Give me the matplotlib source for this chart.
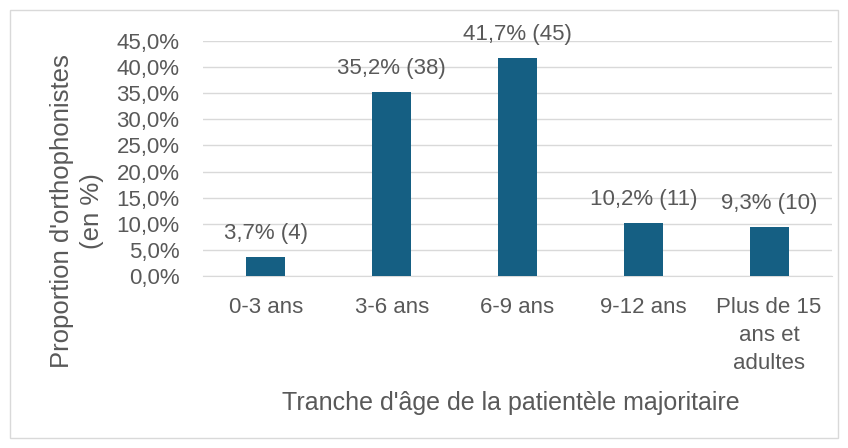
import matplotlib.pyplot as plt
from matplotlib.patches import Rectangle
from matplotlib.ticker import FuncFormatter, MultipleLocator

categories = ['0-3 ans', '3-6 ans', '6-9 ans', '9-12 ans', 'Plus de 15\nans et\nadultes']
pourcentages = [3.7, 35.2, 41.7, 10.2, 9.3]
effectifs = [4, 38, 45, 11, 10]

BAR_COLOR = '#155F83'
TEXT_COLOR = '#595959'
GRID_COLOR = '#D9D9D9'

plt.rcParams['font.family'] = ['Liberation Sans', 'DejaVu Sans']

W, H = 848, 448
fig = plt.figure(figsize=(W / 100, H / 100), dpi=100)
ax = fig.add_axes([203 / W, 1 - 276 / H, 629 / W, 235 / H])

x = range(len(categories))
ax.bar(x, pourcentages, width=0.31, color=BAR_COLOR, zorder=3)

# étiquettes de données : "x,x% (n)"
for xi, p, n in zip(x, pourcentages, effectifs):
    ax.annotate(f"{p:.1f}".replace('.', ',') + f"% ({n})", (xi, p),
                xytext=(0, 13), textcoords='offset points',
                ha='center', va='baseline', fontsize=16, color=TEXT_COLOR)

ax.set_xlim(-0.5, len(categories) - 0.5)
ax.set_ylim(0, 45)
ax.yaxis.set_major_locator(MultipleLocator(5))
ax.yaxis.set_major_formatter(FuncFormatter(lambda v, _: f"{v:.1f}".replace('.', ',') + '%'))
ax.grid(axis='y', color=GRID_COLOR, linewidth=1, zorder=0)
for s in ['top', 'right', 'left']:
    ax.spines[s].set_visible(False)
ax.spines['bottom'].set_color(GRID_COLOR)
ax.tick_params(axis='both', length=0, labelsize=16, colors=TEXT_COLOR)
ax.tick_params(axis='x', pad=15)
ax.tick_params(axis='y', pad=17)
ax.set_xticks(list(x))
ax.set_xticklabels(categories, linespacing=1.45)

fig.text(511 / W, 1 - 403 / H, "Tranche d'âge de la patientèle majoritaire",
         ha='center', va='center', fontsize=18, color=TEXT_COLOR)
fig.text(77 / W, 1 - 211 / H, "Proportion d'orthophonistes\n(en %)",
         ha='center', va='center', rotation=90, fontsize=18.5,
         color=TEXT_COLOR, linespacing=1.3)

fig.patches.append(Rectangle((10 / W, 10 / H), 828 / W, 428 / H,
                             transform=fig.transFigure, fill=False,
                             edgecolor=GRID_COLOR, linewidth=1))

fig.savefig('out.png', dpi=100)
